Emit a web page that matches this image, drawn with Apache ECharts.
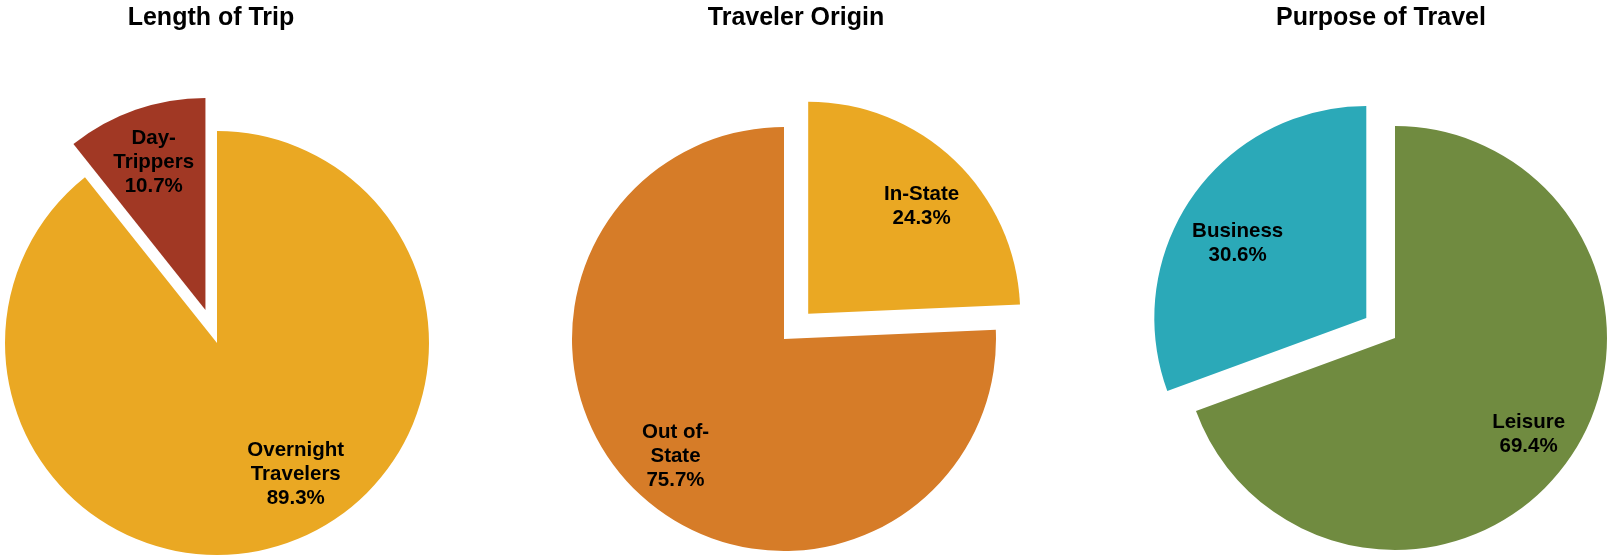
<!DOCTYPE html>
<html><head><meta charset="utf-8">
<script src="https://cdn.jsdelivr.net/npm/echarts@6/dist/echarts.min.js"></script>
<style>html,body{margin:0;padding:0;background:#fff}#chart{width:1608px;height:557px}</style>
</head><body><div id="chart"></div>
<script>
// ---- data ----
const chartTitles = ['Length of Trip', 'Traveler Origin', 'Purpose of Travel'];

const tripCategories = ['Overnight Travelers', 'Day-Trippers'];
const tripLabels = ['Overnight\nTravelers', 'Day-\nTrippers'];
const tripValues = [89.3, 10.7];

const originCategories = ['In-State', 'Out of-State'];
const originLabels = ['In-State', 'Out of-\nState'];
const originValues = [24.3, 75.7];

const purposeCategories = ['Leisure', 'Business'];
const purposeLabels = ['Leisure', 'Business'];
const purposeValues = [69.4, 30.6];

const explodedSlice = [1, 0, 1];

// ---- styling / layout ----
const FONT = '"Liberation Sans", Arial, Helvetica, sans-serif';
const R = 212;
const LABEL_RATIO = 0.74;
const pieCenters = [[217, 343], [784, 339], [1395, 338]];
const titleX = [211, 796, 1381];
const sliceColors = [['#EAA823', '#A13824'], ['#EAA823', '#D67C28'], ['#708B40', '#2BA9B8']];
const labelNudge = [[[27, -17], [0, 0]], [[5, 6], [0, 4]], [[5, 7], [0, 15]]];

const pies = [
  {cats: tripCategories, labels: tripLabels, values: tripValues},
  {cats: originCategories, labels: originLabels, values: originValues},
  {cats: purposeCategories, labels: purposeLabels, values: purposeValues}
];

function midAngles(values) {
  const total = values.reduce((a, b) => a + b, 0);
  let acc = 0;
  return values.map(v => { const m = (acc + v / 2) / total * 2 * Math.PI; acc += v; return m; });
}

const chart = echarts.init(document.getElementById('chart'), null, {renderer: 'canvas'});

const option = {
  animation: false,
  backgroundColor: '#ffffff',
  title: chartTitles.map((t, i) => ({
    text: t, left: titleX[i], top: 6, textAlign: 'center', padding: 0,
    textStyle: {fontFamily: FONT, fontWeight: 'bold', fontSize: 25, color: '#000', lineHeight: 25}
  })),
  series: pies.map((p, si) => {
    const mids = midAngles(p.values);
    return {
      type: 'pie',
      center: pieCenters[si],
      radius: [0, R],
      startAngle: 90,
      clockwise: true,
      selectedMode: 'multiple',
      selectedOffset: 35,
      avoidLabelOverlap: false,
      silent: true,
      emphasis: {disabled: true},
      select: {itemStyle: {borderWidth: 0}},
      labelLine: {show: false},
      label: {
        show: true, position: 'inside',
        fontFamily: FONT, fontWeight: 'bold', fontSize: 20.5, lineHeight: 24,
        color: '#000', align: 'center', textBorderWidth: 0,
        formatter: params => p.labels[params.dataIndex] + '\n' + params.value.toFixed(1) + '%'
      },
      labelLayout: params => {
        const a = mids[params.dataIndex];
        const extra = R * (LABEL_RATIO - 0.5) - 3;
        const n = labelNudge[si][params.dataIndex];
        return {dx: extra * Math.sin(a) + n[0], dy: -extra * Math.cos(a) + n[1]};
      },
      itemStyle: {borderWidth: 0},
      data: p.values.map((v, i) => ({
        name: p.cats[i], value: v,
        selected: i === explodedSlice[si],
        itemStyle: {color: sliceColors[si][i]},
        select: {itemStyle: {color: sliceColors[si][i], borderWidth: 0}}
      }))
    };
  })
};
chart.setOption(option);
</script>
</body></html>
